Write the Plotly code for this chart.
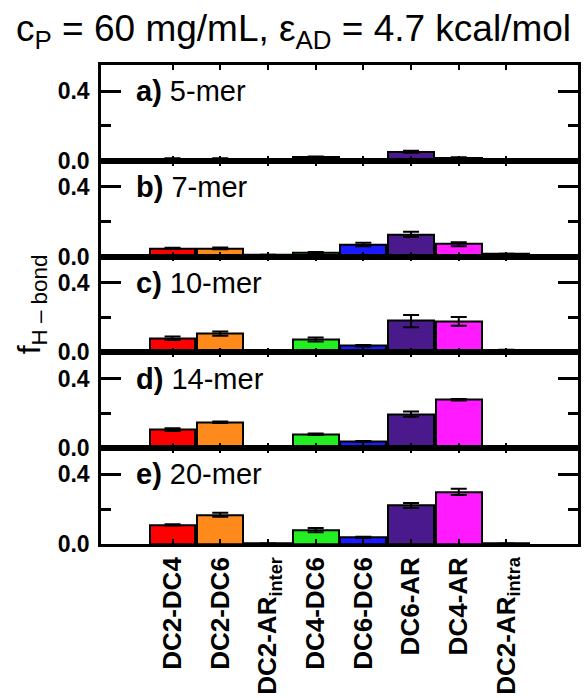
import plotly.graph_objects as go
from plotly.subplots import make_subplots

# Hydrogen-bond pair categories (x axis)
categories = ["DC2-DC4", "DC2-DC6", "DC2-AR<sub>inter</sub>", "DC4-DC6",
              "DC6-DC6", "DC6-AR", "DC4-AR", "DC2-AR<sub>intra</sub>"]
bar_colors = ["#ff0000", "#ff8a1c", "#ffffff", "#22ee22",
              "#1a1aff", "#4a1a8c", "#ff1aff", "#ffffff"]

# Panel titles (chain length)
panel_tags = ["a)", "b)", "c)", "d)", "e)"]
panel_names = ["5-mer", "7-mer", "10-mer", "14-mer", "20-mer"]

# Fraction of hydrogen bonds per category, one list per chain length
f_5mer = [0.012, 0.012, 0.003, 0.020, 0.004, 0.052, 0.018, 0.008]
f_7mer = [0.047, 0.047, 0.008, 0.024, 0.069, 0.127, 0.071, 0.014]
f_10mer = [0.081, 0.108, 0.005, 0.074, 0.038, 0.180, 0.178, 0.012]
f_14mer = [0.107, 0.149, 0.002, 0.080, 0.038, 0.196, 0.278, 0.004]
f_20mer = [0.110, 0.168, 0.002, 0.080, 0.038, 0.221, 0.299, 0.002]

# Standard errors
e_5mer = [0.003, 0.003, 0.001, 0.004, 0.001, 0.006, 0.003, 0.002]
e_7mer = [0.004, 0.005, 0.002, 0.003, 0.010, 0.015, 0.012, 0.003]
e_10mer = [0.010, 0.012, 0.002, 0.012, 0.004, 0.035, 0.025, 0.003]
e_14mer = [0.008, 0.005, 0.001, 0.004, 0.003, 0.015, 0.004, 0.001]
e_20mer = [0.004, 0.012, 0.001, 0.012, 0.004, 0.015, 0.018, 0.001]

values = [f_5mer, f_7mer, f_10mer, f_14mer, f_20mer]
errors = [e_5mer, e_7mer, e_10mer, e_14mer, e_20mer]

# y-axis ticks
y_major = [0.0, 0.4]
y_major_text = ["<b>0.0</b>", "<b>0.4</b>"]
y_minor = [0.2]

FONT = "Liberation Sans, Arial, Helvetica, sans-serif"
xpos = list(range(len(categories)))
x_text = [f"<b>{c}</b>" for c in categories]

fig = make_subplots(rows=5, cols=1, shared_xaxes=True, vertical_spacing=0)

for i, (vals, errs) in enumerate(zip(values, errors), start=1):
    fig.add_trace(
        go.Bar(
            x=xpos, y=vals, width=0.96,
            marker=dict(color=bar_colors, line=dict(color="black", width=2)),
            error_y=dict(type="data", array=errs, color="black",
                         thickness=2, width=8),
            showlegend=False,
        ),
        row=i, col=1,
    )
    fig.update_yaxes(
        row=i, col=1,
        range=[0, 0.55],
        tickvals=y_major, ticktext=y_major_text,
        ticks="inside", ticklen=20, tickwidth=2.5, tickcolor="black",
        minor=dict(tickvals=y_minor, ticks="inside", ticklen=10,
                   tickwidth=2.5, tickcolor="black"),
        showline=True, linecolor="black", linewidth=2.5, mirror="ticks",
        showgrid=False, zeroline=False,
        ticklabelstandoff=4,
        tickfont=dict(family=FONT, size=23, color="black"),
    )
    fig.update_xaxes(
        row=i, col=1,
        range=[-1.5, 8.5],
        tickvals=xpos, ticktext=x_text,
        ticks="inside", ticklen=5, tickwidth=2, tickcolor="black",
        showline=True, linecolor="black", linewidth=2.5, mirror="ticks",
        showgrid=False, zeroline=False,
        showticklabels=(i == 5), tickangle=-90,
        tickfont=dict(family=FONT, size=26, color="black"),
    )
    axis_suffix = "" if i == 1 else str(i)
    fig.add_annotation(
        xref=f"x{axis_suffix} domain", yref=f"y{axis_suffix}",
        x=0.07, y=0.4, xanchor="left", yanchor="middle",
        text=f"<b>{panel_tags[i-1]}</b> {panel_names[i-1]}",
        showarrow=False,
        font=dict(family=FONT, size=29, color="black"),
    )

fig.add_annotation(
    xref="paper", yref="paper", x=-0.145, y=0.5,
    xanchor="center", yanchor="middle", textangle=-90,
    text="f<sub>H \u2013 bond</sub>", showarrow=False,
    font=dict(family=FONT, size=32, color="black"),
)

fig.add_annotation(
    xref="paper", yref="paper", x=0.404, y=1.0, yshift=34,
    xanchor="center", yanchor="middle",
    text="c<sub>P</sub> = 60 mg/mL, \u03b5<sub>AD</sub> = 4.7 kcal/mol",
    showarrow=False,
    font=dict(family=FONT, size=37, color="black"),
)

fig.update_layout(
    width=584, height=698,
    margin=dict(l=101, r=3, t=65, b=152),
    paper_bgcolor="white", plot_bgcolor="white",
    bargap=0,
)

fig.write_html("out.html")
